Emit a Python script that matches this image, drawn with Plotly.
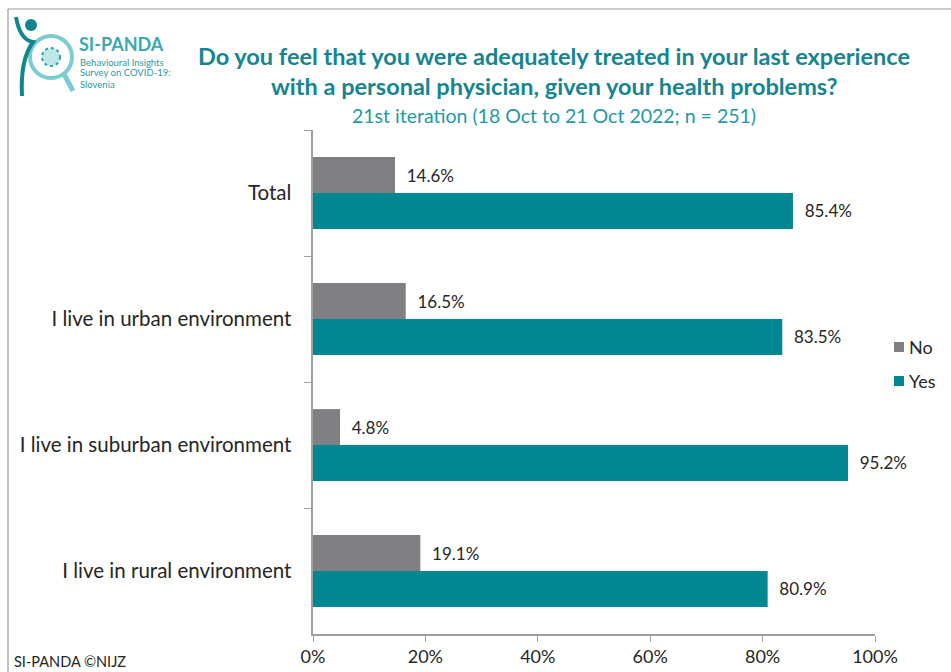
import plotly.graph_objects as go

# Survey results (share of respondents)
categories = ["Total", "I live in urban environment",
              "I live in suburban environment", "I live in rural environment"]
no_values = [0.146, 0.165, 0.048, 0.191]
yes_values = [0.854, 0.835, 0.952, 0.809]
series_names = ["No", "Yes"]
x_ticks = [0, 0.2, 0.4, 0.6, 0.8, 1.0]
x_tick_labels = ["0%", "20%", "40%", "60%", "80%", "100%"]

W, H = 951, 672
L, R, T, B = 313, 76, 130, 38
PW, PH = W - L - R, H - T - B


def px(x):
    return (x - L) / PW


def py(y):
    return (H - B - y) / PH


GRAY = "#7F7F84"
TEAL = "#008792"
FONT = "Lato, 'Open Sans', sans-serif"
series_colors = [GRAY, TEAL]

fig = go.Figure()
for name, vals, col in zip(series_names, [no_values, yes_values], series_colors):
    fig.add_trace(go.Bar(
        y=categories, x=vals, name=name, orientation="h",
        marker=dict(color=col, line=dict(width=0)),
        text=[f"  {v*100:.1f}%" for v in vals], textposition="outside",
        textfont=dict(size=17, color="#262626", family=FONT),
        cliponaxis=False,
    ))

fig.update_layout(
    width=W, height=H,
    margin=dict(l=L, r=R, t=T, b=B, autoexpand=False),
    paper_bgcolor="white", plot_bgcolor="white",
    barmode="group", bargap=0.43, bargroupgap=0,
    font=dict(family=FONT, color="#262626"),
    showlegend=False,
    xaxis=dict(range=[0, 1], tickvals=x_ticks, ticktext=x_tick_labels,
               showgrid=False, zeroline=False, showline=True,
               linecolor="#A0A0A0", linewidth=1.5, ticks="outside",
               ticklen=6, tickcolor="#A0A0A0",
               tickfont=dict(size=18, color="#262626", family=FONT)),
    yaxis=dict(autorange="reversed", showgrid=False, zeroline=False,
               showline=True, linecolor="#A0A0A0", linewidth=1.5,
               ticks="outside", tickson="boundaries", ticklen=7,
               tickcolor="#A0A0A0", ticksuffix="   ",
               tickfont=dict(size=20.5, color="#262626", family=FONT)),
)

# Legend drawn as swatches + labels at the right of the plot
for i, (name, col) in enumerate(zip(series_names, series_colors)):
    yc = 347 + i * 34
    fig.add_shape(type="rect", xref="paper", yref="paper",
                  x0=px(894), x1=px(904), y0=py(yc - 5), y1=py(yc + 5),
                  line=dict(width=0), fillcolor=col)
    fig.add_annotation(xref="paper", yref="paper", x=px(907), y=py(yc),
                       text=name, showarrow=False, xanchor="left",
                       yanchor="middle",
                       font=dict(size=18, color="#262626", family=FONT))

# Outer frame (top and left edges)
fig.add_shape(type="line", xref="paper", yref="paper",
              x0=px(8), x1=px(960), y0=py(9), y1=py(9),
              line=dict(color="#9A9A9A", width=1.2))
fig.add_shape(type="line", xref="paper", yref="paper",
              x0=px(8), x1=px(8), y0=py(9), y1=py(680),
              line=dict(color="#9A9A9A", width=1.2))

# Titles
cx = px(554)
fig.add_annotation(xref="paper", yref="paper", x=cx, y=py(56),
                   text="<b>Do you feel that you were adequately treated in your last experience</b>",
                   showarrow=False, xanchor="center", yanchor="middle",
                   font=dict(size=23.5, color="#15858F", family=FONT))
fig.add_annotation(xref="paper", yref="paper", x=cx, y=py(86),
                   text="<b>with a personal physician, given your health problems?</b>",
                   showarrow=False, xanchor="center", yanchor="middle",
                   font=dict(size=23.5, color="#15858F", family=FONT))
fig.add_annotation(xref="paper", yref="paper", x=cx, y=py(115),
                   text="21st iteration (18 Oct to 21 Oct 2022; n = 251)",
                   showarrow=False, xanchor="center", yanchor="middle",
                   font=dict(size=19.5, color="#1E9AA3", family=FONT))

# Footer
fig.add_annotation(xref="paper", yref="paper", x=px(12), y=py(661),
                   text="SI-PANDA ©NIJZ", showarrow=False,
                   xanchor="left", yanchor="middle",
                   font=dict(size=14.5, color="#262626", family=FONT))

# Logo: magnifier with virus, figure, and wordmark
fig.add_shape(type="circle", xref="paper", yref="paper",
              x0=px(30), x1=px(72), y0=py(36), y1=py(78),
              line=dict(color="#7CCDD1", width=4), fillcolor="white")
fig.add_shape(type="circle", xref="paper", yref="paper",
              x0=px(42), x1=px(60), y0=py(48), y1=py(66),
              line=dict(color="#2AA5AD", width=2, dash="dot"),
              fillcolor="#BFE6E8")
fig.add_shape(type="line", xref="paper", yref="paper",
              x0=px(64), x1=px(73), y0=py(74), y1=py(91),
              line=dict(color="#7CCDD1", width=5))
fig.add_shape(type="circle", xref="paper", yref="paper",
              x0=px(25), x1=px(37), y0=py(19), y1=py(31),
              line=dict(width=0), fillcolor="#12868F")
fig.add_shape(type="path", xref="paper", yref="paper",
              path=f"M {px(16)} {py(17)} Q {px(20)} {py(40)} {px(33)} {py(42)} "
                   f"Q {px(20)} {py(60)} {px(22)} {py(96)}",
              line=dict(color="#12868F", width=4))
fig.add_annotation(xref="paper", yref="paper", x=px(77), y=py(44),
                   text="<b>SI-PANDA</b>", showarrow=False,
                   xanchor="left", yanchor="middle",
                   font=dict(size=18, color="#3AAAB2", family=FONT))
for i, line in enumerate(["Behavioural Insights", "Survey on COVID-19:", "Slovenia"]):
    fig.add_annotation(xref="paper", yref="paper", x=px(78), y=py(62 + i * 11),
                       text=line, showarrow=False, xanchor="left",
                       yanchor="middle",
                       font=dict(size=9.5, color="#2A9AA3", family=FONT))

fig.write_html("out.html")
